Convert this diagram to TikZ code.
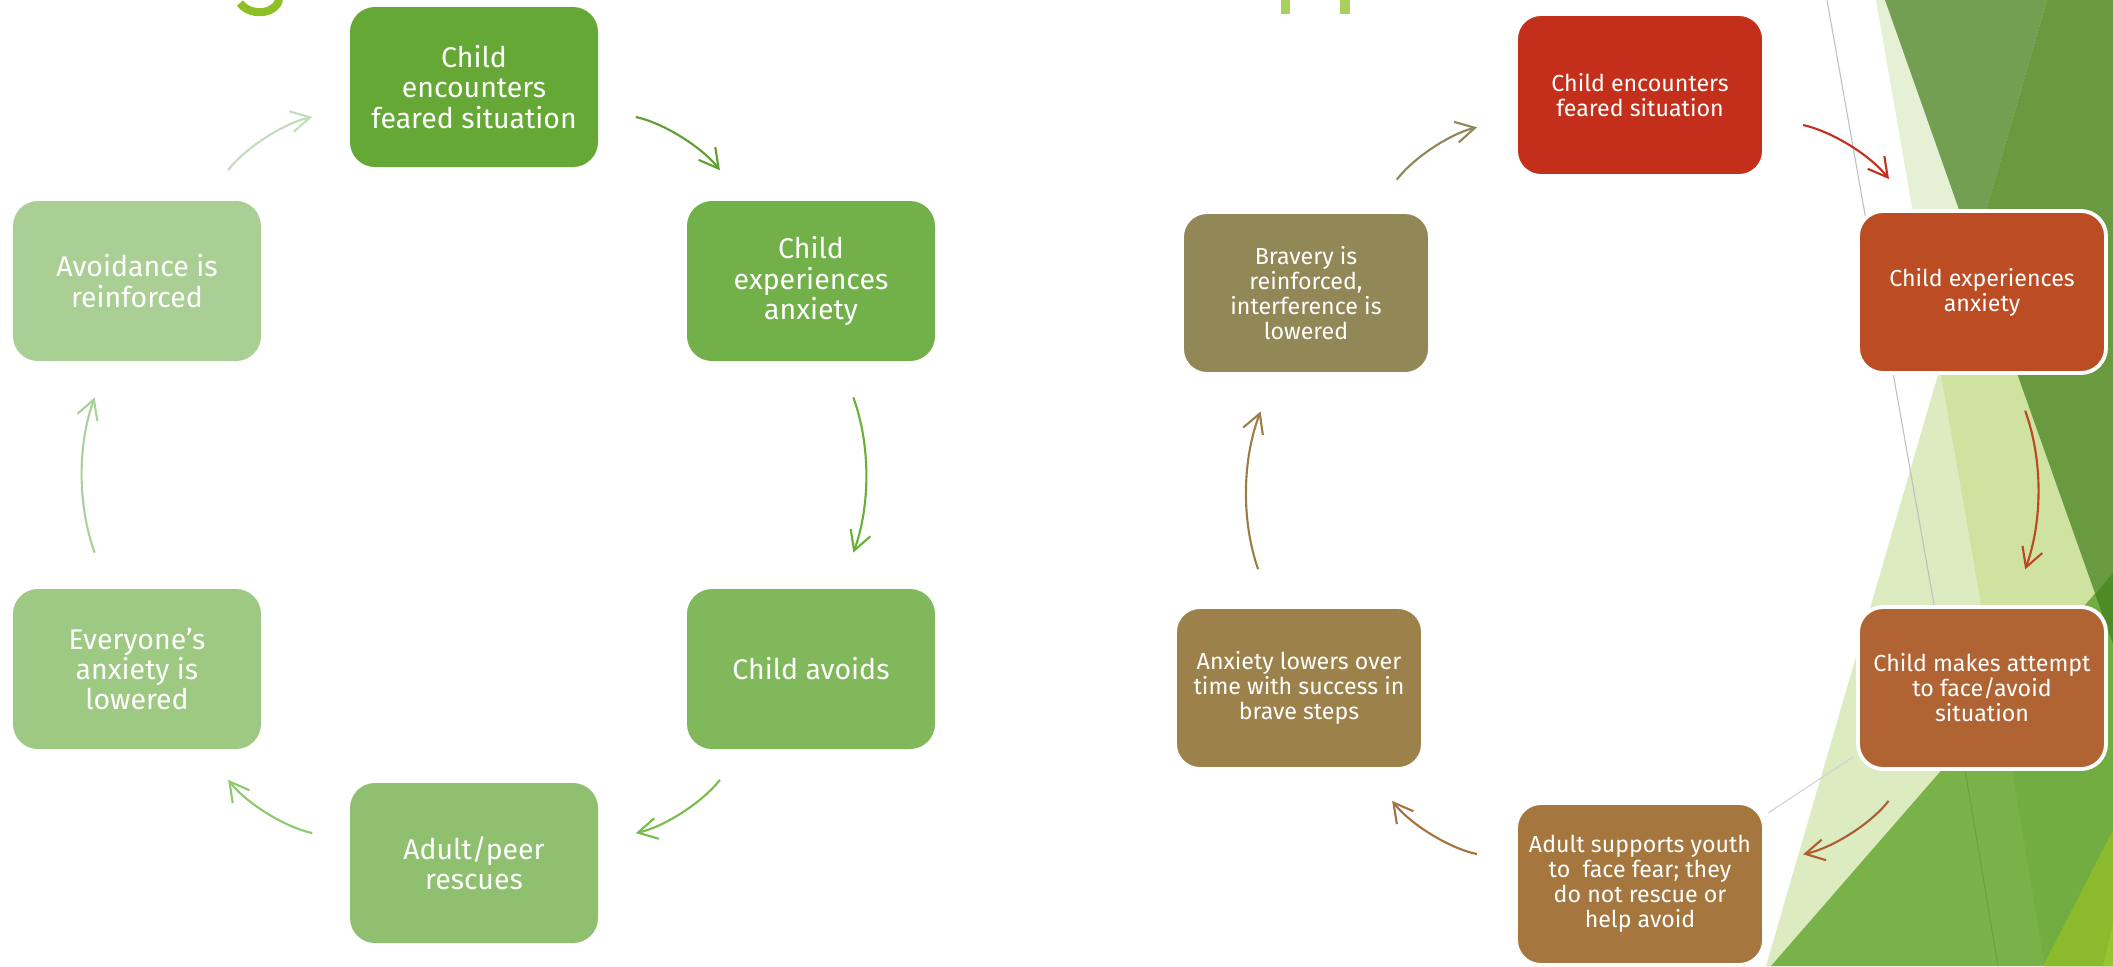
\documentclass[tikz,border=0pt]{standalone}
\usepackage{fontspec}
\setmainfont{Fira Sans}
\usetikzlibrary{arrows.meta}

% box colours, dark to light round each cycle
\definecolor{gA}{HTML}{66A836}
\definecolor{gB}{HTML}{72B04A}
\definecolor{gC}{HTML}{82B85C}
\definecolor{gD}{HTML}{8FC070}
\definecolor{gE}{HTML}{9DC983}
\definecolor{gF}{HTML}{AACF94}
\definecolor{rA}{HTML}{C32F1A}
\definecolor{rB}{HTML}{BB4C24}
\definecolor{rC}{HTML}{B06434}
\definecolor{rD}{HTML}{A5773F}
\definecolor{rE}{HTML}{9D814B}
\definecolor{rF}{HTML}{928757}
% arrow colours
\definecolor{gaA}{HTML}{5E9E32}
\definecolor{gaB}{HTML}{66B034}
\definecolor{gaC}{HTML}{76BE4C}
\definecolor{gaD}{HTML}{8ACB70}
\definecolor{gaE}{HTML}{A5D398}
\definecolor{gaF}{HTML}{C3DDBC}
\definecolor{raA}{HTML}{C4301D}
\definecolor{raB}{HTML}{BA4824}
\definecolor{raC}{HTML}{AC5E33}
\definecolor{raD}{HTML}{A77140}
\definecolor{raE}{HTML}{9B7E45}
\definecolor{raF}{HTML}{8E8759}
% slide background
\definecolor{bgA}{HTML}{E6F0D5}
\definecolor{bgB}{HTML}{DCEBC0}
\definecolor{bgAB}{HTML}{D0E2A0}
\definecolor{midA}{HTML}{729F51}
\definecolor{midAB}{HTML}{6A9A40}
\definecolor{grC}{HTML}{7AB24A}
\definecolor{grD}{HTML}{72AD42}
\definecolor{grL}{HTML}{69A33D}
\definecolor{dkC}{HTML}{4E8A25}
\definecolor{yelA}{HTML}{8BBA2C}
\definecolor{yelB}{HTML}{97C431}
\definecolor{ttl}{HTML}{8DC024}
\definecolor{ttlB}{HTML}{A9D05A}
\definecolor{gry}{HTML}{BFBFBF}

\begin{document}
\begin{tikzpicture}[
	lbox/.style={rounded corners=2.5mm, minimum width=2.48cm, minimum height=1.6cm,
		inner sep=0pt, align=center, text=white, font=\fontsize{8.1}{8.6}\selectfont},
	rbox/.style={rounded corners=2.5mm, minimum width=2.48cm, minimum height=1.62cm,
		inner sep=0pt, align=center, text=white, draw=white, line width=1.1pt,
		font=\fontsize{6.6}{7.1}\selectfont},
	arr/.style={-{Straight Barb[length=1.9mm,width=2.1mm]}, line width=0.6pt,
		shorten <=3.8mm, shorten >=3.8mm},
	]
\useasboundingbox (0,0) rectangle (21.13,-9.66);
\fill[white] (0,0) rectangle (21.13,-9.66);

% background facets
\fill[bgA] (18.76,0) -- (21.13,0) -- (21.13,-9.66) -- (20.44,-9.66) -- cycle;
\fill[bgB] (20.47,0) -- (21.13,0) -- (21.13,-9.66) -- (17.66,-9.66) -- cycle;
\fill[bgAB] (20.47,0) -- (21.13,0) -- (21.13,-9.66) -- (20.44,-9.66) -- (19.40,-3.68) -- cycle;
\fill[midA] (18.85,0) -- (20.47,0) -- (19.74,-2.52) -- cycle;
\fill[midAB] (20.47,0) -- (21.13,0) -- (21.13,-6.44) -- (19.74,-2.52) -- cycle;
\fill[grC] (21.13,-5.73) -- (17.71,-9.66) -- (21.13,-9.66) -- cycle;
\fill[grD] (20.01,-7.02) -- (21.13,-5.73) -- (21.13,-9.66) -- (20.45,-9.66) -- cycle;
\draw[grL, line width=0.3pt] (19.55,-7.10) -- (19.98,-9.66);
\fill[dkC] (20.95,-5.94) -- (21.13,-5.73) -- (21.13,-6.44) -- cycle;
\fill[yelA] (21.13,-8.30) -- (20.43,-9.66) -- (21.13,-9.66) -- cycle;
\fill[yelB] (21.13,-9.23) -- (21.03,-9.66) -- (21.13,-9.66) -- cycle;
\draw[gry, line width=0.3pt] (18.27,0) -- (19.35,-6.10);
\draw[gry!70, line width=0.3pt] (18.53,-7.57) -- (17.68,-8.13);

% bits of the titles
\draw[ttl, line width=2.3pt] (2.40,-0.03) .. controls (2.47,-0.13) and (2.62,-0.14) .. (2.70,-0.10)
	.. controls (2.76,-0.07) and (2.79,-0.03) .. (2.79,0.02);
\fill[ttlB] (12.81,0) rectangle (12.90,-0.14);
\fill[ttlB] (13.40,0) rectangle (13.50,-0.14);

% avoidance cycle
\node[lbox, fill=gA] (la) at (4.74,-0.87) {Child\\encounters\\feared situation};
\node[lbox, fill=gB] (lb) at (8.11,-2.81) {Child\\experiences\\anxiety};
\node[lbox, fill=gC] (lc) at (8.11,-6.69) {Child avoids};
\node[lbox, fill=gD] (ld) at (4.74,-8.63) {Adult/peer\\rescues};
\node[lbox, fill=gE] (le) at (1.37,-6.69) {Everyone’s\\anxiety is\\lowered};
\node[lbox, fill=gF] (lf) at (1.37,-2.81) {Avoidance is\\reinforced};

\draw[arr, gaA] (la) to[bend left=20] (lb);
\draw[arr, gaB] (lb) to[bend left=20] (lc);
\draw[arr, gaC] (lc) to[bend left=20] (ld);
\draw[arr, gaD] (ld) to[bend left=20] (le);
\draw[arr, gaE] (le) to[bend left=20] (lf);
\draw[arr, gaF] (lf) to[bend left=20] (la);

% brave cycle
\node[rbox, fill=rA] (ra) at (16.40,-0.95) {Child encounters\\feared situation};
\node[rbox, fill=rB] (rb) at (19.82,-2.92) {Child experiences\\anxiety};
\node[rbox, fill=rC] (rc) at (19.82,-6.88) {Child makes attempt\\to face/avoid\\situation};
\node[rbox, fill=rD] (rd) at (16.40,-8.84) {Adult supports youth\\to\ \ face fear; they\\do not rescue or\\help avoid};
\node[rbox, fill=rE] (re) at (12.99,-6.88) {Anxiety lowers over\\time with success in\\brave steps};
\node[rbox, fill=rF] (rf) at (13.06,-2.93) {Bravery is\\reinforced,\\interference is\\lowered};

\draw[arr, raA] (ra) to[bend left=20] (rb);
\draw[arr, raB] (rb) to[bend left=20] (rc);
\draw[arr, raC] (rc) to[bend left=20] (rd);
\draw[arr, raD] (rd) to[bend left=20] (re);
\draw[arr, raE] (re) to[bend left=20] (rf);
\draw[arr, raF] (rf) to[bend left=20] (ra);
\end{tikzpicture}
\end{document}
